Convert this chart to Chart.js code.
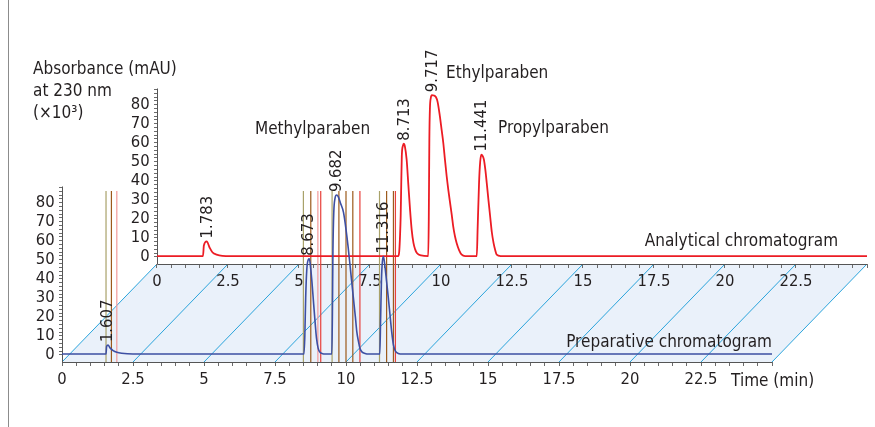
<!DOCTYPE html>
<html>
<head>
<meta charset="utf-8">
<script src="https://cdn.jsdelivr.net/npm/chart.js@4.4.1/dist/chart.umd.min.js"></script>
<style>
  html, body { margin: 0; padding: 0; background: #fff; }
  #wrap { position: relative; width: 875px; height: 427px; }
  #borda { position: absolute; left: 8px; top: 0; bottom: 0; border-left: 1.5px solid #8c8c8c; }
</style>
</head>
<body>
<div id="wrap">
  <canvas id="grafico" width="875" height="427"></canvas>
  <div id="borda"></div>
</div>
<script>
const FONTE = "'DejaVu Sans Condensed', 'Liberation Sans', sans-serif";
const COR_TEXTO = "#231f20";
const TAM_TICK = 16.5;
const TAM_NOTA = 17;

// ---- dados ----
// eixo de tempo (min) e absorbância (mAU x10^3)
const xLabels = [0, 2.5, 5, 7.5, 10, 12.5, 15, 17.5, 20, 22.5];
const yLabels = [0, 10, 20, 30, 40, 50, 60, 70, 80];
const X_END = 25;
const Y_TOP = 88.5;

// cromatograma preparativo (frente)
const prepTimes = [
  0, 1.55, 1.57, 1.62, 1.70, 1.80, 1.93, 2.10, 2.50,
  8.52, 8.55, 8.58, 8.62, 8.67, 8.71, 8.76, 8.80, 8.86, 8.91, 8.96, 9.02, 9.08, 9.15, 9.30,
  9.50, 9.52, 9.54, 9.57, 9.61, 9.67, 9.73, 9.80, 9.91, 10.00, 10.08, 10.17, 10.26, 10.33, 10.38, 10.44, 10.49, 10.57, 10.67, 10.80,
  11.19, 11.22, 11.25, 11.28, 11.32, 11.36, 11.43, 11.49, 11.55, 11.61, 11.67, 11.74, 11.84, 12.00, 25
];
const prepValues = [
  0.5, 0.5, 4.5, 5.2, 3.6, 2.3, 1.4, 0.9, 0.5,
  0.5, 10, 30, 45, 50, 50.5, 45, 38.5, 27, 17.5, 9, 3.5, 1.5, 0.8, 0.5,
  0.5, 20, 55, 75, 82, 84, 83, 80, 75, 66, 56, 43, 30, 20, 12.3, 7, 3.5, 1.5, 0.8, 0.5,
  0.5, 20, 40, 49, 51.7, 48, 38.5, 30, 21, 12, 5.3, 2, 0.8, 0.5, 0.5
];
const prepPeaks = [1.607, 8.673, 9.682, 11.316];

// cromatograma analítico (fundo)
const anaTimes = [
  0, 1.62, 1.65, 1.75, 1.85, 1.95, 2.10, 2.30, 2.60,
  8.50, 8.53, 8.56, 8.58, 8.60, 8.62, 8.66, 8.69, 8.73, 8.79, 8.85, 8.91, 8.97, 9.03, 9.09, 9.15, 9.30, 9.55,
  9.57, 9.59, 9.61, 9.64, 9.68, 9.75, 9.82, 9.88, 9.96, 10.02, 10.08, 10.14, 10.20, 10.26, 10.32, 10.38, 10.43, 10.49, 10.55, 10.64, 10.73, 10.85,
  11.26, 11.29, 11.34, 11.38, 11.42, 11.47, 11.51, 11.56, 11.61, 11.67, 11.73, 11.79, 11.85, 11.91, 11.96, 12.10, 25
];
const anaValues = [
  0.5, 0.5, 6, 8.2, 5, 2.5, 1.2, 0.6, 0.5,
  0.5, 3, 12, 21.4, 38, 53, 58.5, 59.5, 58, 51.2, 38, 24.9, 14, 7.4, 4, 2.1, 0.8, 0.5,
  20, 62, 78, 83.5, 85, 84.8, 84, 81.5, 74, 67, 60, 51, 42.4, 35, 28.4, 22, 16.1, 11, 7.4, 3.5, 1.2, 0.5,
  0.5, 15, 39, 50, 53.8, 53, 51.2, 46, 39, 30, 21.4, 13, 7.4, 3.5, 1.2, 0.5, 0.5
];
const anaPeaks = [1.783, 8.713, 9.717, 11.441];

// marcadores de fração (min)
const fracOlive = [1.55, 8.50, 9.51, 11.18];
const fracBrown = [1.74, 8.76, 9.75, 10.00, 10.24, 11.43, 11.67];
const fracRed = [9.11, 10.49, 11.74];
const fracPink = [1.93, 9.01];

// ---- geometria dos eixos ----
const AXIS_LEVEL = -3.68;   // onde fica a linha do eixo de tempo
const FRAC_TOP = 86.1;

const notas = [
  { text: "Absorbance (mAU)", sx: "x", sy: "y2", x: -1.02, y: 98.2, align: "left" },
  { text: "at 230 nm", sx: "x", sy: "y2", x: -1.02, y: 86.7, align: "left" },
  { text: "(\u00d710\u00b3)", sx: "x", sy: "y2", x: -1.02, y: 75.1, align: "left" },
  { text: "Methylparaben", sx: "x2", sy: "y2", x: 3.45, y: 66.7, align: "left" },
  { text: "Ethylparaben", sx: "x2", sy: "y2", x: 10.18, y: 96.1, align: "left" },
  { text: "Propylparaben", sx: "x2", sy: "y2", x: 12.01, y: 67.2, align: "left" },
  { text: "Analytical chromatogram", sx: "x2", sy: "y2", x: 23.98, y: 7.9, align: "right" },
  { text: "Preparative chromatogram", sx: "x", sy: "y", x: 25, y: 6.3, align: "right" },
  { text: "Time (min)", sx: "x", sy: "y", x: 23.56, y: -14.0, align: "left" },
];

function pares(ts, vs) {
  return ts.map((t, i) => ({ x: t, y: vs[i] }));
}

function linhasFracao(ts) {
  const out = [];
  ts.forEach((t) => {
    out.push({ x: t, y: AXIS_LEVEL }, { x: t, y: FRAC_TOP }, { x: t, y: null });
  });
  return out;
}

function datasetFracao(ts, cor) {
  return {
    data: linhasFracao(ts),
    xAxisID: "x", yAxisID: "y",
    borderColor: cor, borderWidth: 1.2,
    pointRadius: 0, tension: 0, spanGaps: false, order: 3,
  };
}

function eixoX(yId, min, max) {
  const minor = [];
  for (let i = 0; i <= X_END * 2; i++) minor.push(i / 2);
  return {
    type: "linear", axis: "x", min: min, max: max, bounds: "data",
    position: { [yId]: AXIS_LEVEL },
    border: { display: false },
    grid: { drawOnChartArea: false, drawTicks: true, tickLength: 4, tickColor: "#6b6b6b", tickWidth: 1 },
    ticks: {
      autoSkip: false, maxRotation: 0, padding: 4, color: COR_TEXTO,
      font: { family: FONTE, size: TAM_TICK },
      callback: (v) => (xLabels.includes(v) ? String(v) : ""),
    },
    afterBuildTicks: (s) => { s.ticks = minor.map((v) => ({ value: v })); },
  };
}

function eixoY(xId, min, max) {
  const minor = [];
  for (let v = 0; v <= Y_TOP; v += 2) minor.push(v);
  return {
    type: "linear", axis: "y", min: min, max: max, bounds: "data",
    position: { [xId]: 0 },
    border: { display: false },
    grid: { drawOnChartArea: false, drawTicks: true, tickLength: 3, tickColor: "#6b6b6b", tickWidth: 1 },
    ticks: {
      autoSkip: false, padding: 4, color: COR_TEXTO,
      font: { family: FONTE, size: TAM_TICK },
      // eixo posicionado por valor não aplica padding: um espaço afasta o texto
      callback: (v) => (yLabels.includes(v) ? String(v) + "\u2002" : ""),
    },
    afterBuildTicks: (s) => { s.ticks = minor.map((v) => ({ value: v })); },
  };
}

function apice(ts, vs, t) {
  let m = 0;
  ts.forEach((x, i) => { if (Math.abs(x - t) < 0.2) m = Math.max(m, vs[i]); });
  return m;
}

const cenario = {
  id: "cenario",
  beforeDraw(chart) {
    const { ctx, scales } = chart;
    const { x, y, x2, y2 } = scales;
    const fy = y.getPixelForValue(AXIS_LEVEL);
    const by = y2.getPixelForValue(AXIS_LEVEL);
    ctx.save();
    ctx.fillStyle = "#eaf1fa";
    ctx.beginPath();
    ctx.moveTo(x.getPixelForValue(0), fy);
    ctx.lineTo(x.getPixelForValue(X_END), fy);
    ctx.lineTo(x2.getPixelForValue(X_END), by);
    ctx.lineTo(x2.getPixelForValue(0), by);
    ctx.closePath();
    ctx.fill();
    ctx.strokeStyle = "#2aa4dc";
    ctx.lineWidth = 1;
    xLabels.concat([X_END]).forEach((t) => {
      ctx.beginPath();
      ctx.moveTo(x.getPixelForValue(t), fy);
      ctx.lineTo(x2.getPixelForValue(t), by);
      ctx.stroke();
    });
    ctx.restore();
  },
  beforeDatasetsDraw(chart) {
    const { ctx, scales } = chart;
    const { x, y, x2, y2 } = scales;
    ctx.save();
    ctx.strokeStyle = "#555";
    ctx.lineWidth = 1;
    [[x, y], [x2, y2]].forEach(([sx, sy]) => {
      const py = Math.round(sy.getPixelForValue(AXIS_LEVEL)) + 0.5;
      const px = Math.round(sx.getPixelForValue(0)) + 0.5;
      ctx.beginPath();
      ctx.moveTo(px, sy.getPixelForValue(Y_TOP));
      ctx.lineTo(px, py);
      ctx.lineTo(sx.getPixelForValue(X_END), py);
      ctx.stroke();
    });
    ctx.restore();
  },
  afterDatasetsDraw(chart) {
    const { ctx, scales } = chart;
    ctx.save();
    ctx.fillStyle = COR_TEXTO;
    ctx.font = TAM_TICK + "px " + FONTE;
    ctx.textAlign = "left";
    ctx.textBaseline = "middle";
    const rotulo = (t, h, sx, sy) => {
      ctx.save();
      ctx.translate(sx.getPixelForValue(t), sy.getPixelForValue(h) - 3);
      ctx.rotate(-Math.PI / 2);
      ctx.fillText(t.toFixed(3), 0, 0);
      ctx.restore();
    };
    anaPeaks.forEach((t) => rotulo(t, apice(anaTimes, anaValues, t), scales.x2, scales.y2));
    prepPeaks.forEach((t) => rotulo(t, apice(prepTimes, prepValues, t), scales.x, scales.y));

    ctx.font = TAM_NOTA + "px " + FONTE;
    notas.forEach((n) => {
      ctx.textAlign = n.align;
      ctx.fillText(n.text, scales[n.sx].getPixelForValue(n.x), scales[n.sy].getPixelForValue(n.y));
    });
    ctx.restore();
  },
};

new Chart(document.getElementById("grafico"), {
  type: "line",
  data: {
    datasets: [
      {
        label: "Preparative chromatogram",
        data: pares(prepTimes, prepValues),
        xAxisID: "x", yAxisID: "y",
        borderColor: "#3d4fa3", borderWidth: 1.6,
        pointRadius: 0, cubicInterpolationMode: "monotone", order: 0,
      },
      {
        label: "Analytical chromatogram",
        data: pares(anaTimes, anaValues),
        xAxisID: "x2", yAxisID: "y2",
        borderColor: "#ec1c24", borderWidth: 1.8,
        pointRadius: 0, cubicInterpolationMode: "monotone", order: 1,
      },
      datasetFracao(fracOlive, "#a9a26a"),
      datasetFracao(fracBrown, "#9c5a1c"),
      datasetFracao(fracRed, "#e8413c"),
      datasetFracao(fracPink, "#f29a9a"),
    ],
  },
  options: {
    responsive: false,
    animation: false,
    devicePixelRatio: 1,
    layout: { padding: { left: 62, right: 8, top: 88, bottom: 65 } },
    plugins: { legend: { display: false }, tooltip: { enabled: false } },
    scales: {
      x: eixoX("y", 0, 28.345),
      y: eixoY("x", AXIS_LEVEL, 140.23),
      x2: eixoX("y2", -3.345, X_END),
      y2: eixoY("x2", -55.15, 88.76),
    },
  },
  plugins: [cenario],
});
</script>
</body>
</html>
